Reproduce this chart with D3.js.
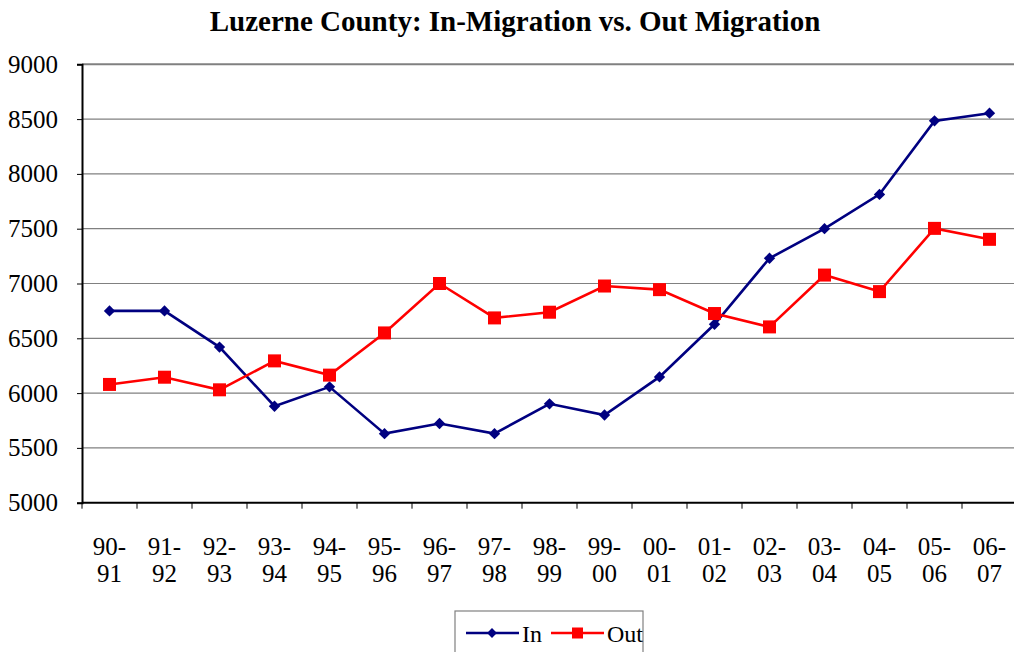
<!DOCTYPE html>
<html><head><meta charset="utf-8">
<script src="https://cdn.jsdelivr.net/npm/d3@7"></script>
<style>body{margin:0;background:#fff}svg{display:block}</style>
</head><body>
<script>
const categories = ["90-91","91-92","92-93","93-94","94-95","95-96","96-97","97-98","98-99","99-00","00-01","01-02","02-03","03-04","04-05","05-06","06-07"];
const inValues  = [6750,6750,6420,5880,6057,5630,5723,5630,5902,5800,6148,6628,7230,7500,7813,8484,8554];
const outValues = [6079,6145,6030,6294,6164,6549,7000,6686,6738,6977,6944,6726,6604,7077,6926,7503,7403];
const yTicks = [5000,5500,6000,6500,7000,7500,8000,8500,9000];

const W=1014,H=652;
const svg=d3.select("body").append("svg").attr("width",W).attr("height",H);
const pLeft=82,pRight=1017,pTop=64.3,pBottom=502.7;
const x=d3.scaleBand().domain(categories).range([pLeft,pRight]);
const y=d3.scaleLinear().domain([5000,9000]).range([pBottom,pTop]);
const font="'Liberation Serif','Times New Roman',serif";

svg.append("text").attr("x",515).attr("y",31).attr("text-anchor","middle")
  .attr("font-family",font).attr("font-weight","bold").attr("font-size",29)
  .text("Luzerne County: In-Migration vs. Out Migration");

// gridlines
svg.append("g").selectAll("line").data(yTicks.filter(d=>d>5000)).join("line")
  .attr("x1",pLeft).attr("x2",pRight).attr("y1",d=>y(d)).attr("y2",d=>y(d))
  .attr("stroke","#808080").attr("stroke-width",d=>d===9000?2:1.2);

// y axis
const yAxis=svg.append("g").attr("transform",`translate(${pLeft},0)`)
  .call(d3.axisLeft(y).tickValues(yTicks).tickSize(5).tickPadding(19).tickFormat(d3.format("d")));
yAxis.attr("font-family",font);
yAxis.select(".domain").attr("stroke","#000").attr("stroke-width",2);
yAxis.selectAll("text").attr("font-family",font).attr("font-size",25).attr("fill","#000");
yAxis.selectAll(".tick line").attr("stroke","#000");

// x axis
const xg=svg.append("g").attr("transform",`translate(0,${pBottom})`);
xg.append("line").attr("x1",pLeft).attr("x2",pRight).attr("stroke","#000").attr("stroke-width",2);
const bounds=categories.map(c=>x(c)).concat([pRight]);
xg.selectAll(".tk").data(bounds).join("line").attr("class","tk")
  .attr("x1",d=>d).attr("x2",d=>d).attr("y1",0).attr("y2",6).attr("stroke","#000");
const lbl=xg.selectAll(".lb").data(categories).join("text").attr("class","lb")
  .attr("text-anchor","middle").attr("font-family",font).attr("font-size",25)
  .attr("transform",d=>`translate(${x(d)+x.bandwidth()/2},0)`);
lbl.append("tspan").attr("x",0).attr("y",52).text(d=>d.split("-")[0]+"-");
lbl.append("tspan").attr("x",0).attr("y",79).text(d=>d.split("-")[1]);

const cx=d=>x(d)+x.bandwidth()/2;
const line=d3.line().x((d,i)=>cx(categories[i])).y(d=>y(d));

svg.append("path").datum(inValues).attr("d",line).attr("fill","none").attr("stroke","#000080").attr("stroke-width",2.6);
svg.append("path").datum(outValues).attr("d",line).attr("fill","none").attr("stroke","#FF0000").attr("stroke-width",2.6);

const diamond=d3.symbol().type(d3.symbolDiamond2).size(82);
svg.append("g").selectAll("path").data(inValues).join("path")
  .attr("d",diamond).attr("transform",(d,i)=>`translate(${cx(categories[i])},${y(d)})`)
  .attr("fill","#000080");
svg.append("g").selectAll("rect").data(outValues).join("rect")
  .attr("x",(d,i)=>cx(categories[i])-6.5).attr("y",d=>y(d)-6.5).attr("width",13).attr("height",13)
  .attr("fill","#FF0000");

// legend
const lg=svg.append("g");
lg.append("rect").attr("x",455).attr("y",611).attr("width",188).attr("height",52)
  .attr("fill","#fff").attr("stroke","#808080").attr("stroke-width",1.2);
const ly=633;
lg.append("line").attr("x1",466).attr("x2",519).attr("y1",ly).attr("y2",ly).attr("stroke","#000080").attr("stroke-width",2.6);
lg.append("path").attr("d",d3.symbol().type(d3.symbolDiamond2).size(62)).attr("transform",`translate(492,${ly})`).attr("fill","#000080");
lg.append("text").attr("x",522).attr("y",ly+9).attr("font-family",font).attr("font-size",24).text("In");
lg.append("line").attr("x1",551).attr("x2",604).attr("y1",ly).attr("y2",ly).attr("stroke","#FF0000").attr("stroke-width",2.6);
lg.append("rect").attr("x",572).attr("y",ly-5.5).attr("width",11).attr("height",11).attr("fill","#FF0000");
lg.append("text").attr("x",607).attr("y",ly+9).attr("font-family",font).attr("font-size",24).text("Out");
</script>
</body></html>
